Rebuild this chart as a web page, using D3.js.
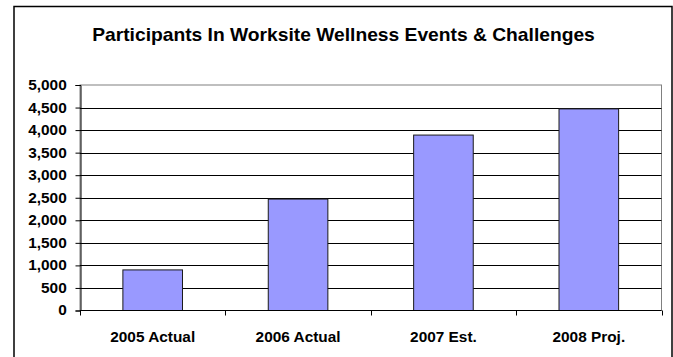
<!DOCTYPE html>
<html>
<head>
<meta charset="utf-8">
<script src="https://cdn.jsdelivr.net/npm/d3@7"></script>
<style>
  html, body { margin: 0; padding: 0; background: #fff; }
  svg { display: block; font-family: "Liberation Sans", Arial, sans-serif; }
</style>
</head>
<body>
<svg id="chart" width="673" height="357"></svg>
<script>
// Participants per year
const categories = ["2005 Actual", "2006 Actual", "2007 Est.", "2008 Proj."];
const participants = [900, 2470, 3890, 4470];
const yTicks = [0, 500, 1000, 1500, 2000, 2500, 3000, 3500, 4000, 4500, 5000];
const title = "Participants In Worksite Wellness Events & Challenges";

const svg = d3.select("#chart");
const H = 357;
const plot = { left: 80, right: 661.5, top: 85, bottom: 310.5 };
const stretch = 1.1; // horizontal text widening

// outer chart frame
svg.append("rect")
  .attr("x", 14).attr("y", 6.5)
  .attr("width", 672 - 14).attr("height", H)
  .attr("fill", "#fff").attr("stroke", "#000").attr("stroke-width", 1.5);

svg.append("text")
  .attr("transform", `translate(343.5,41) scale(${stretch},1)`)
  .attr("text-anchor", "middle")
  .attr("font-weight", "bold").attr("font-size", 17.5)
  .attr("fill", "#000")
  .text(title);

const x = d3.scaleBand().domain(categories).range([plot.left, plot.right])
  .paddingInner(0.59).paddingOuter(0.295);
const y = d3.scaleLinear().domain([0, 5000]).range([plot.bottom, plot.top]);

// plot area border
svg.append("rect")
  .attr("x", plot.left).attr("y", plot.top)
  .attr("width", plot.right - plot.left).attr("height", plot.bottom - plot.top)
  .attr("fill", "#fff").attr("stroke", "#808080").attr("stroke-width", 1);

// horizontal gridlines
svg.append("g").selectAll("line")
  .data(yTicks.filter(d => d > 0 && d < 5000))
  .join("line")
  .attr("x1", plot.left).attr("x2", plot.right)
  .attr("y1", d => Math.round(y(d)) + 0.5).attr("y2", d => Math.round(y(d)) + 0.5)
  .attr("stroke", "#000").attr("stroke-width", 1);

// bars
svg.append("g").selectAll("rect")
  .data(categories.map((c, i) => ({ c, v: participants[i] })))
  .join("rect")
  .attr("x", d => x(d.c)).attr("width", x.bandwidth())
  .attr("y", d => y(d.v)).attr("height", d => y(0) - y(d.v))
  .attr("fill", "#9999ff").attr("stroke", "#1a1a1a").attr("stroke-width", 1);

// y axis
const yAxis = d3.axisLeft(y).tickValues(yTicks).tickSize(5)
  .tickFormat(d3.format(","));
const gy = svg.append("g").attr("transform", `translate(${plot.left + 0.5},0)`).call(yAxis);
gy.select(".domain").attr("stroke", "#000");
gy.selectAll(".tick line").attr("stroke", "#000");
gy.selectAll("text")
  .attr("x", -13.8 / stretch)
  .attr("transform", `scale(${stretch},1)`)
  .attr("font-size", 14).attr("font-weight", "bold")
  .attr("font-family", "Liberation Sans, Arial, sans-serif").attr("fill", "#000");

// x axis with ticks between categories
const xEdges = d3.range(categories.length + 1)
  .map(i => plot.left + i * (plot.right - plot.left) / categories.length);
const gx = svg.append("g");
gx.append("line").attr("x1", plot.left).attr("x2", plot.right)
  .attr("y1", plot.bottom).attr("y2", plot.bottom).attr("stroke", "#000");
gx.selectAll("line.tk").data(xEdges).join("line").attr("class", "tk")
  .attr("x1", d => Math.round(d) + 0.5).attr("x2", d => Math.round(d) + 0.5)
  .attr("y1", plot.bottom).attr("y2", plot.bottom + 5).attr("stroke", "#000");
gx.selectAll("text").data(categories).join("text")
  .attr("transform", d => `translate(${x(d) + x.bandwidth() / 2},342) scale(${stretch},1)`)
  .attr("text-anchor", "middle").attr("font-size", 14).attr("font-weight", "bold")
  .attr("fill", "#000").text(d => d);
</script>
</body>
</html>
